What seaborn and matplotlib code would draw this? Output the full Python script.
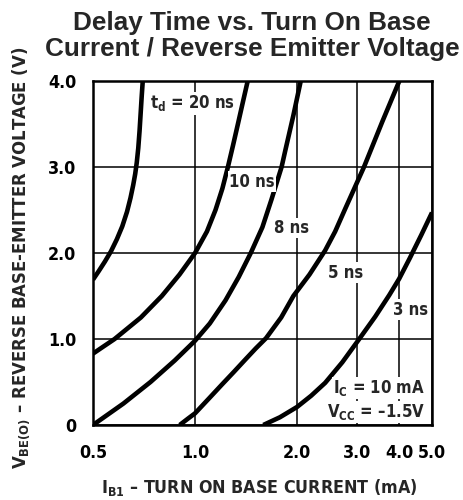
import numpy as np
import pandas as pd
import matplotlib
matplotlib.use("Agg")
import matplotlib.pyplot as plt
import seaborn as sns
from matplotlib.ticker import FixedLocator, NullLocator, FixedFormatter
from matplotlib import font_manager as fm

# ---- data (I_B1 in mA, V_BE(O) in V) ----
td20_x = [0.500, 0.520, 0.542, 0.565, 0.588, 0.610, 0.630, 0.645, 0.657,
          0.666, 0.673, 0.680, 0.686, 0.691, 0.696, 0.701]
td20_y = [1.69, 1.79, 1.90, 2.02, 2.16, 2.31, 2.48, 2.64, 2.79,
          2.92, 3.05, 3.22, 3.42, 3.62, 3.82, 4.00]

td10_x = [0.500, 0.531, 0.579, 0.692, 0.798, 0.900, 1.000, 1.084, 1.149,
          1.204, 1.250, 1.294, 1.338, 1.383, 1.430]
td10_y = [0.83, 0.90, 1.00, 1.25, 1.50, 1.75, 2.00, 2.25, 2.50,
          2.75, 3.00, 3.25, 3.50, 3.75, 4.00]

td8_x = [0.500, 0.615, 0.739, 0.871, 1.000, 1.105, 1.230, 1.345, 1.460,
         1.580, 1.680, 1.800, 1.848, 1.950, 2.050]
td8_y = [0.00, 0.25, 0.50, 0.75, 0.98, 1.18, 1.45, 1.72, 2.00,
         2.30, 2.62, 3.00, 3.20, 3.60, 4.00]

td5_x = [0.901, 0.950, 1.000, 1.100, 1.200, 1.300, 1.410, 1.510, 1.620,
         1.795, 1.950, 2.176, 2.420, 2.590, 2.770, 3.150, 3.570, 4.005]
td5_y = [0.00, 0.07, 0.136, 0.31, 0.47, 0.615, 0.765, 0.89, 1.01,
         1.25, 1.50, 1.75, 2.03, 2.25, 2.51, 3.00, 3.53, 4.00]

td3_x = [1.590, 1.780, 2.000, 2.200, 2.420, 2.720, 3.050, 3.400, 3.740,
         4.000, 4.300, 4.650, 5.000]
td3_y = [0.00, 0.09, 0.21, 0.34, 0.49, 0.73, 1.00, 1.26, 1.51,
         1.70, 1.94, 2.21, 2.47]

curve_names = ["20 ns", "10 ns", "8 ns", "5 ns", "3 ns"]

x_ticks = [0.5, 1.0, 2.0, 3.0, 4.0, 5.0]
x_ticklabels = ["0.5", "1.0", "2.0", "3.0", "4.0", "5.0"]
y_ticks = [0, 1.0, 2.0, 3.0, 4.0]
y_ticklabels = ["0", "1.0", "2.0", "3.0", "4.0"]

frames = []
for name, xs, ys in zip(curve_names,
                        [td20_x, td10_x, td8_x, td5_x, td3_x],
                        [td20_y, td10_y, td8_y, td5_y, td3_y]):
    frames.append(pd.DataFrame({"ib": xs, "vbe": ys, "td": name}))
df = pd.concat(frames, ignore_index=True)

sns.set_theme(style="white")
plt.rcParams["font.family"] = ["DejaVu Sans"]
plt.rcParams["mathtext.fontset"] = "custom"

cond = fm.FontProperties(family="DejaVu Sans", weight="bold", stretch="condensed")
cond_file = fm.findfont(cond)
cond_name = fm.FontProperties(fname=cond_file).get_name()
plt.rcParams["mathtext.rm"] = cond_name + ":bold"
plt.rcParams["mathtext.it"] = cond_name + ":bold"
plt.rcParams["mathtext.bf"] = cond_name + ":bold"

def cfp(size):
    return fm.FontProperties(fname=cond_file, size=size)

fig = plt.figure(figsize=(4.63, 5.0), dpi=100)
ax = fig.add_axes([93 / 463, 1 - 425 / 500, (432 - 93) / 463, (425 - 81) / 500])

sns.lineplot(data=df, x="ib", y="vbe", hue="td", units="td", estimator=None,
             sort=False, palette=["black"] * 5, linewidth=3.3, legend=False,
             ax=ax, zorder=3)
for ln in ax.get_lines():
    ln.set_solid_joinstyle("round")
    ln.set_solid_capstyle("butt")

ax.set_xscale("log")
ax.set_xlim(0.5, 5.0)
ax.set_ylim(0, 4.0)
ax.xaxis.set_major_locator(FixedLocator(x_ticks))
ax.xaxis.set_major_formatter(FixedFormatter(x_ticklabels))
ax.xaxis.set_minor_locator(NullLocator())
ax.yaxis.set_major_locator(FixedLocator(y_ticks))
ax.yaxis.set_major_formatter(FixedFormatter(y_ticklabels))

ax.grid(True, which="major", color="black", linewidth=1.1)
ax.set_axisbelow(True)
for s in ax.spines.values():
    s.set_visible(True)
    s.set_color("black")
    s.set_linewidth(1.8)

ax.tick_params(axis="both", length=0, colors="black")
ax.tick_params(axis="x", pad=14)
ax.tick_params(axis="y", pad=12)
for lab in ax.get_xticklabels() + ax.get_yticklabels():
    lab.set_fontproperties(cfp(12.8))

ax.set_xlabel("")
ax.set_ylabel("")

fig.text(259 / 463, 1 - 487 / 500,
         r"$\mathregular{I_{B1}}$ – TURN ON BASE CURRENT (mA)",
         ha="center", va="center", fontproperties=cfp(12.8))
fig.text(21 / 463, 1 - 258 / 500,
         r"$\mathregular{V_{BE(O)}}$ – REVERSE BASE-EMITTER VOLTAGE (V)",
         ha="center", va="center", rotation=90, fontproperties=cfp(13.2))

fig.text(252 / 463, 1 - 36 / 500,
         "Delay Time vs. Turn On Base\nCurrent / Reverse Emitter Voltage",
         ha="center", va="center", fontsize=18.8, fontweight="bold",
         family=["Liberation Sans", "DejaVu Sans"], linespacing=1.12)

box = dict(facecolor="white", edgecolor="none", pad=1.0)
lab_kw = dict(fontproperties=cfp(12), zorder=4, bbox=box)
ax.text(0.735, 3.74, r"$\mathregular{t_{d}}$ = 20 ns", ha="left", va="center", **lab_kw)
ax.text(1.26, 2.83, "10 ns", ha="left", va="center", **lab_kw)
ax.text(1.71, 2.29, "8 ns", ha="left", va="center", **lab_kw)
ax.text(2.47, 1.77, "5 ns", ha="left", va="center", **lab_kw)
ax.text(3.84, 1.34, "3 ns", ha="left", va="center", **lab_kw)
ax.text(4.77, 0.43, r"$\mathregular{I_{C}}$ = 10 mA", ha="right", va="center", **lab_kw)
ax.text(4.77, 0.15, r"$\mathregular{V_{CC}}$ = –1.5V", ha="right", va="center", **lab_kw)

fig.savefig("out.png", dpi=100, facecolor="white")
